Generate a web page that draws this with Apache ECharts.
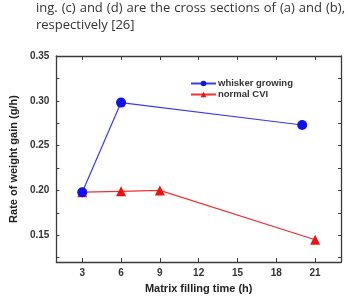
<!DOCTYPE html>
<html>
<head>
<meta charset="utf-8">
<script src="https://cdn.jsdelivr.net/npm/echarts@6/dist/echarts.min.js"></script>
<style>
  html, body { margin: 0; padding: 0; background: #fff; }
  #chart { width: 347px; height: 299px; }
</style>
</head>
<body>
<div id="chart"></div>
<script>
// data
const whiskerTime = [3, 6, 20]
const whiskerRate = [0.198, 0.298, 0.273]
const normalTime = [3, 6, 9, 21]
const normalRate = [0.198, 0.199, 0.2, 0.145]

const xTicks = [3, 6, 9, 12, 15, 18, 21]
const yLabels = [0.15, 0.2, 0.25, 0.3, 0.35]
const yTicks = [0.125, 0.15, 0.175, 0.2, 0.225, 0.25, 0.275, 0.3, 0.325, 0.35]

const captionLines = ['ing. (c) and (d) are the cross sections of (a) and (b),', 'respectively [26]']

const zip = (xs, ys) => xs.map((x, i) => [x, ys[i]])

const frame = '#3a3a3a'
const labelFont = { fontFamily: 'Liberation Sans, Arial', fontWeight: 'bold', fontSize: 10, color: '#333' }
const captionFont = '13px "Open Sans"'

// caption: first line justified across the column, second left aligned
const measure = document.createElement('canvas').getContext('2d')
measure.font = captionFont
const captionLeft = 36
const captionRight = 345
const captionGraphics = []
const words = captionLines[0].split(' ')
const wordsW = words.reduce((s, w) => s + measure.measureText(w).width, 0)
const gap = (captionRight - captionLeft - wordsW) / (words.length - 1)
let cx = captionLeft
words.forEach(w => {
  captionGraphics.push({ type: 'text', x: cx, y: 2, style: { text: w, font: captionFont, fill: '#333' } })
  cx += measure.measureText(w).width + gap
})
captionGraphics.push({ type: 'text', x: captionLeft, y: 19, style: { text: captionLines[1], font: captionFont, fill: '#333' } })

const chart = echarts.init(document.getElementById('chart'))

chart.setOption({
  animation: false,
  grid: { left: 50, right: 6, top: 56, bottom: 31, containLabel: false },
  graphic: captionGraphics,
  legend: {
    data: ['whisker growing', 'normal CVI'],
    orient: 'vertical',
    left: 185, top: 73,
    itemWidth: 25, itemHeight: 7, itemGap: 0,
    textStyle: { fontFamily: 'Liberation Sans, Arial', fontWeight: 'bold', fontSize: 9.5, lineHeight: 11, color: '#333', padding: [0, 0, 0, -3] }
  },
  xAxis: [
    {
      type: 'value', min: 1, max: 23,
      name: 'Matrix filling time (h)', nameLocation: 'middle', nameGap: 17,
      nameTextStyle: { fontFamily: 'Liberation Sans, Arial', fontWeight: 'bold', fontSize: 11, color: '#222' },
      axisLine: { lineStyle: { color: frame, width: 1.3 } },
      axisTick: { inside: true, length: 4, customValues: xTicks, lineStyle: { color: frame } },
      axisLabel: Object.assign({ customValues: xTicks, margin: 6 }, labelFont),
      splitLine: { show: false }
    },
    {
      type: 'value', min: 1, max: 23, position: 'top',
      axisLine: { lineStyle: { color: frame, width: 1.3 } },
      axisTick: { inside: true, length: 4, customValues: xTicks, lineStyle: { color: frame } },
      axisLabel: { show: false },
      splitLine: { show: false }
    }
  ],
  yAxis: [
    {
      type: 'value', min: 0.12, max: 0.35,
      name: 'Rate of weight gain (g/h)', nameLocation: 'middle', nameGap: 33,
      nameTextStyle: { fontFamily: 'Liberation Sans, Arial', fontWeight: 'bold', fontSize: 11, color: '#222' },
      axisLine: { show: true, lineStyle: { color: frame, width: 1.3 } },
      axisTick: { show: true, inside: true, length: 3, customValues: yTicks, lineStyle: { color: frame } },
      axisLabel: Object.assign({ customValues: yLabels, margin: 7, formatter: v => v.toFixed(2) }, labelFont),
      splitLine: { show: false }
    },
    {
      type: 'value', min: 0.12, max: 0.35, position: 'right',
      axisLine: { show: true, lineStyle: { color: frame, width: 1.3 } },
      axisTick: { show: true, inside: true, length: 3, customValues: yTicks, lineStyle: { color: frame } },
      axisLabel: { show: false },
      splitLine: { show: false }
    }
  ],
  series: [
    {
      name: 'normal CVI', type: 'line',
      data: zip(normalTime, normalRate),
      symbol: 'triangle', symbolSize: 10,
      itemStyle: { color: '#f01010' },
      lineStyle: { color: '#f03030', width: 1.2 }
    },
    {
      name: 'whisker growing', type: 'line',
      data: zip(whiskerTime, whiskerRate),
      symbol: 'circle', symbolSize: 10,
      itemStyle: { color: '#1010f0' },
      lineStyle: { color: '#3a3af0', width: 1.2 }
    }
  ]
})
</script>
</body>
</html>
